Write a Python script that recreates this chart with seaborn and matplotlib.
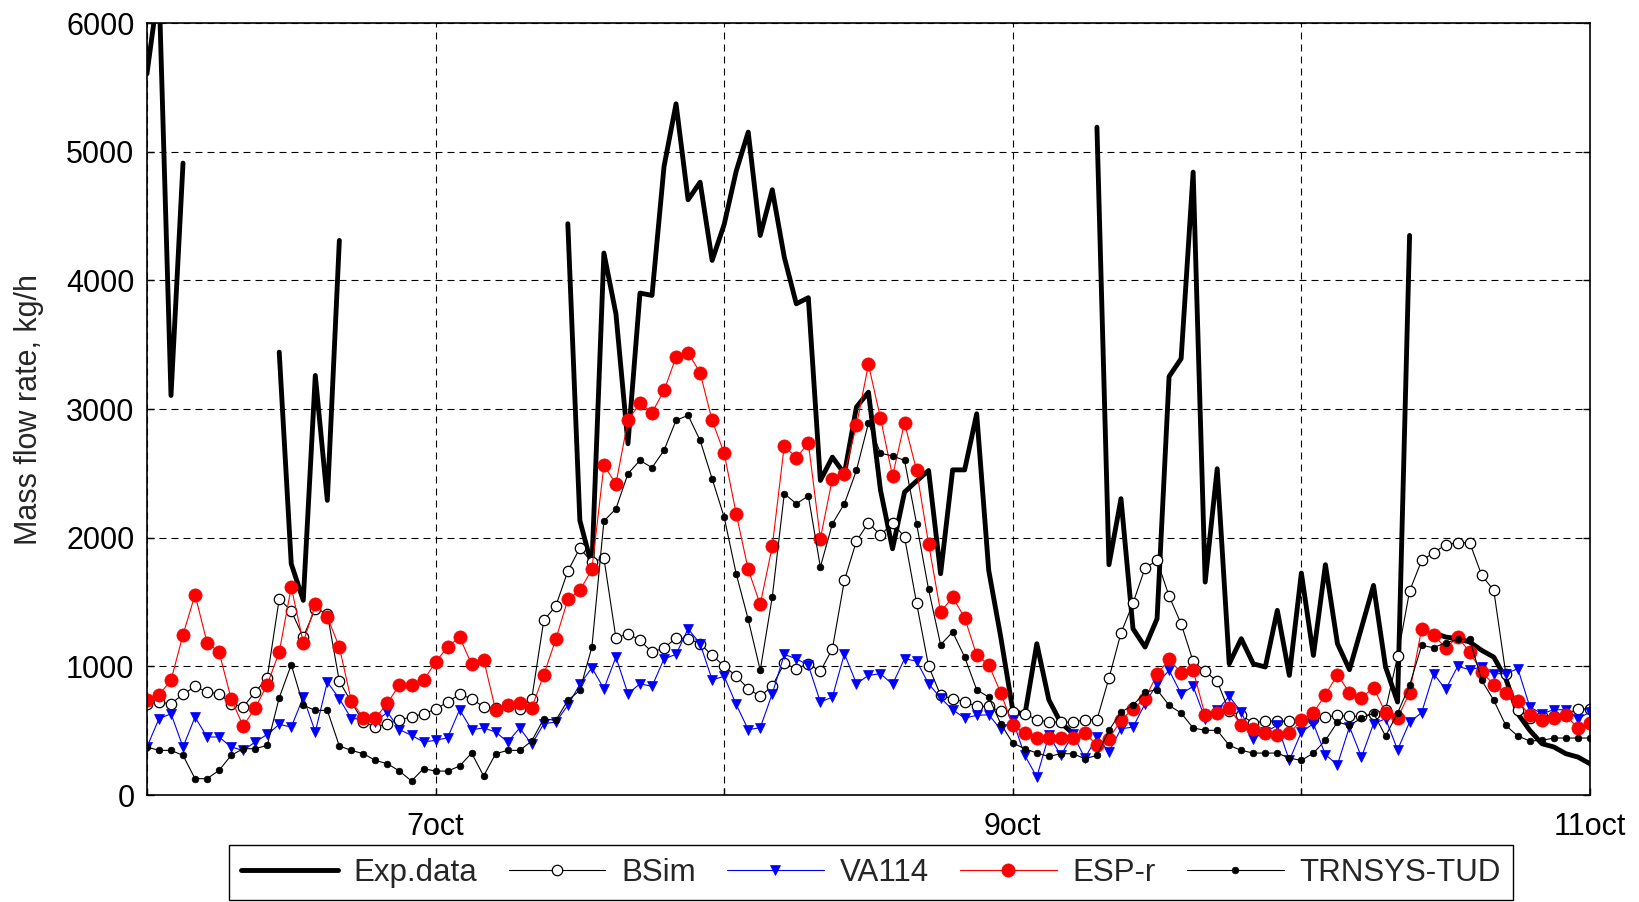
import numpy as np
import pandas as pd
import matplotlib
matplotlib.use("Agg")
import matplotlib.pyplot as plt
from matplotlib.lines import Line2D
import seaborn as sns

nan = np.nan

# hourly values from 6oct 00:00 to 11oct 00:00, kg/h
hours = np.arange(121)

exp_data = [5605, 6300, 3105, 4911, nan, nan, nan, nan, nan, nan, nan,
            3442, 1797, 1513, 3261, 2290, 4310,
            nan, nan, nan, nan, nan, nan, nan, nan, nan, nan, nan, nan, nan, nan, nan, nan, nan, nan,
            4440, 2134, 1780, 4212, 3740,
            2730, 3901, 3883, 4885, 5372, 4626, 4763, 4155, 4434, 4848,
            5152, 4349, 4704, 4180, 3818, 3865, 2445, 2626, 2497, 3015,
            3131, 2370, 1914, 2354, 2440, 2522, 1720, 2527, 2527, 2963,
            1746, 1228, 660, 620, 1176, 740, 560, 480, nan, 5190,
            1790, 2303, 1292, 1150, 1370, 3253, 3391, 4841, 1655, 2536,
            1020, 1215, 1020, 995, 1435, 930, 1725, 1085, 1790, 1176,
            974, 1300, 1629, 995, 723, 4349, nan, 1260, 1228, 1215,
            1189, 1124, 1072, 904, 632, 502, 399, 373, 321, 295,
            243]

bsim = [710, 720, 710, 782, 844, 800, 787, 710, 684, 800, 909, 1525, 1430, 1228, 1448, 1409, 883, 723, 567, 528,
        554, 585, 606, 632, 666, 723, 782, 749, 684, 680, 690, 671, 749, 1357, 1469, 1740, 1919, 1810, 1841, 1220,
        1254, 1202, 1111, 1142, 1220, 1215, 1176, 1085, 1002, 925, 826, 767, 847, 1023, 982, 1020, 961, 1137, 1668, 1974,
        2116, 2018, 2116, 2005, 1492, 1002, 774, 749, 723, 689, 689, 650, 645, 632, 585, 567, 567, 567, 585, 585,
        909, 1259, 1492, 1764, 1823, 1546, 1331, 1039, 961, 883, 650, 620, 559, 575, 575, 575, 575, 590, 606, 619,
        611, 611, 632, 660, 1077, 1585, 1823, 1883, 1945, 1961, 1961, 1707, 1590, 943, 663, 601, 611, 611, 632, 666,
        671]

va114 = [373, 593, 632, 373, 606, 451, 451, 373, 347, 412, 471, 549, 528, 761, 490, 878, 749, 593, 593, 567,
         645, 508, 464, 412, 425, 445, 663, 508, 521, 490, 412, 521, 394, 554, 567, 697, 860, 989, 826, 1072,
         787, 865, 844, 1059, 1093, 1292, 1176, 896, 922, 704, 508, 523, 787, 1093, 1059, 1008, 723, 761, 1098, 865,
         930, 943, 860, 1059, 1041, 865, 754, 663, 598, 619, 624, 510, 580, 308, 140, 464, 308, 471, 287, 451,
         334, 515, 528, 710, 865, 969, 787, 844, 593, 658, 767, 645, 438, 490, 541, 269, 490, 554, 313, 236,
         530, 295, 554, 593, 352, 567, 640, 943, 821, 1000, 974, 995, 943, 943, 982, 684, 632, 663, 663, 593,
         645]

esp_r = [740, 780, 891, 1246, 1557, 1184, 1111, 749, 536, 676, 857, 1111, 1616, 1184, 1481, 1383, 1150, 730, 598, 598,
         715, 857, 857, 891, 1033, 1150, 1228, 1015, 1052, 658, 697, 717, 676, 935, 1210, 1520, 1590, 1753, 2562, 2419,
         2911, 3046, 2971, 3144, 3403, 3437, 3282, 2911, 2657, 2186, 1753, 1481, 1932, 2716, 2620, 2737, 1992, 2458, 2497, 2872,
         3346, 2929, 2479, 2892, 2523, 1953, 1422, 1538, 1378, 1085, 1013, 795, 541, 482, 444, 444, 444, 444, 484, 386,
         438, 580, 671, 749, 938, 1054, 951, 969, 619, 640, 676, 541, 515, 482, 464, 482, 580, 640, 780, 935,
         795, 756, 834, 640, 598, 795, 1292, 1246, 1142, 1228, 1111, 956, 857, 795, 730, 619, 580, 598, 619, 521,
         559]

trnsys = [373, 347, 347, 308, 127, 127, 192, 308, 360, 360, 386, 756, 1013, 697, 658, 658, 381, 347, 321, 269,
          243, 186, 109, 205, 186, 186, 225, 326, 148, 321, 347, 347, 420, 593, 580, 736, 813, 1150, 2129, 2225,
          2497, 2601, 2544, 2679, 2912, 2951, 2756, 2458, 2160, 1720, 1365, 969, 1538, 2342, 2264, 2324, 1772, 2108, 2264, 2523,
          2891, 2657, 2635, 2601, 2109, 1598, 1168, 1267, 1072, 818, 761, 554, 404, 360, 326, 300, 321, 321, 282, 308,
          503, 645, 697, 800, 818, 697, 637, 521, 503, 503, 386, 347, 326, 326, 326, 287, 269, 326, 425, 567,
          541, 598, 637, 458, 637, 852, 1163, 1145, 1184, 1210, 1210, 891, 736, 541, 458, 420, 425, 443, 443, 443,
          443]

day_ticks = [6, 7, 8, 9, 10, 11]
day_labels = ["", "7oct", "", "9oct", "", "11oct"]
y_ticks = [0, 1000, 2000, 3000, 4000, 5000, 6000]

sns.set_theme(style="white")
plt.rcParams["font.family"] = ["Liberation Sans", "DejaVu Sans"]

days = 6 + hours / 24
df = pd.DataFrame({"day": days, "exp": exp_data, "bsim": bsim, "va114": va114,
                   "esp": esp_r, "trnsys": trnsys})

# the measured series has gaps: give each unbroken run its own unit
seg = df["exp"].isna().cumsum()
exp_df = df.loc[df["exp"].notna(), ["day", "exp"]].assign(seg=seg[df["exp"].notna()])

fig = plt.figure(figsize=(16.4, 9.02), dpi=100)
ax = fig.add_axes([0.0896, 0.1186, 0.8799, 0.8559])

sns.lineplot(data=exp_df, x="day", y="exp", units="seg", estimator=None,
             color="black", lw=3.5, ax=ax, legend=False)

styles = {
    "bsim": dict(color="black", marker="o", markersize=7.5, markerfacecolor="white",
                 markeredgecolor="black", markeredgewidth=0.9),
    "va114": dict(color="blue", marker="v", markersize=7.5, markerfacecolor="blue",
                  markeredgecolor="blue", markeredgewidth=0.5),
    "esp": dict(color="red", marker="o", markersize=9.5, markerfacecolor="red",
                markeredgecolor="red", markeredgewidth=0.5),
    "trnsys": dict(color="black", marker="o", markersize=4.8, markerfacecolor="black",
                   markeredgecolor="black", markeredgewidth=0.5),
}
for col, st in styles.items():
    sns.lineplot(data=df, x="day", y=col, estimator=None, lw=0.8, ax=ax, legend=False, **st)

ax.set_xlim(6, 11)
ax.set_ylim(0, 6000)
ax.set_xticks(day_ticks)
ax.set_xticklabels(day_labels)
ax.set_yticks(y_ticks)
ax.set_xlabel("")
ax.set_ylabel("Mass flow rate, kg/h", fontsize=22)
ax.yaxis.set_label_coords(-0.071, 0.5)

ax.set_axisbelow(True)
ax.grid(True, color="black", linestyle=(0, (6.3, 4.5)), linewidth=0.8)
ax.tick_params(axis="both", direction="in", length=5, width=1, labelsize=22,
               bottom=True, left=True, right=True, top=False, colors="black")
ax.tick_params(axis="x", pad=12)
ax.tick_params(axis="y", pad=9)
for sp in ax.spines.values():
    sp.set_color("black")
    sp.set_linewidth(1.2)

handles = [
    Line2D([], [], color="black", lw=3.5, label="Exp.data"),
    Line2D([], [], lw=0.8, label="BSim", **styles["bsim"]),
    Line2D([], [], lw=0.8, label="VA114", **styles["va114"]),
    Line2D([], [], lw=0.8, label="ESP-r", **styles["esp"]),
    Line2D([], [], lw=0.8, label="TRNSYS-TUD", **styles["trnsys"]),
]
leg = fig.legend(handles=handles, loc="upper center", bbox_to_anchor=(0.531, 0.063),
                 ncol=5, fontsize=22.5, frameon=True, fancybox=False, framealpha=1,
                 edgecolor="black", handlelength=3.1, handletextpad=0.5,
                 columnspacing=1.0, borderpad=0.4, borderaxespad=0, numpoints=1)
leg.get_frame().set_linewidth(1.0)

fig.savefig("out.png", dpi=100)
